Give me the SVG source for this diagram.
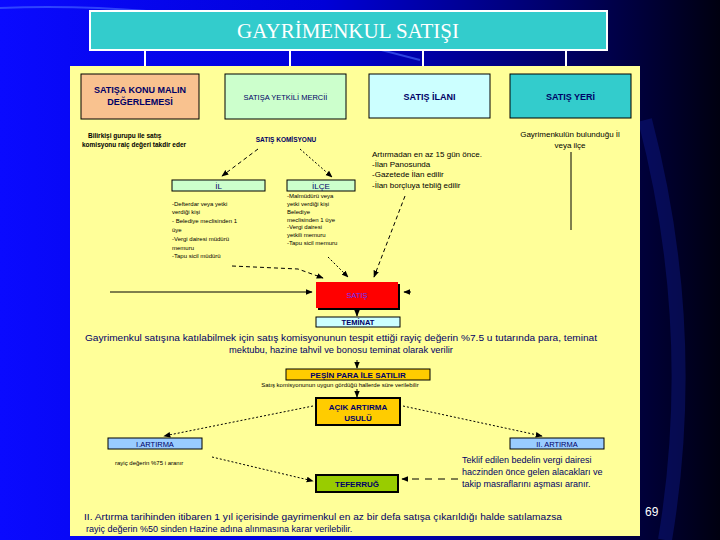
<svg xmlns="http://www.w3.org/2000/svg" width="720" height="540" viewBox="0 0 720 540">
<defs>
<linearGradient id="bg" x1="0" y1="0" x2="1" y2="0">
<stop offset="0" stop-color="#0a0aff"/>
<stop offset="0.45" stop-color="#0000d8"/>
<stop offset="0.75" stop-color="#000070"/>
<stop offset="1" stop-color="#000010"/>
</linearGradient>
<marker id="ah" viewBox="0 0 10 10" refX="9" refY="5" markerWidth="7" markerHeight="7" orient="auto" markerUnits="userSpaceOnUse">
<path d="M0,1 L10,5 L0,9 z" fill="#000"/>
</marker>
<style>
.box{stroke:#000;stroke-width:1}
.thick{stroke:#000;stroke-width:2}
.lbl{font-family:"Liberation Sans",Arial,sans-serif;fill:#000066;text-anchor:middle}
.b{font-weight:bold}
.txt{font-family:"Liberation Sans",Arial,sans-serif;fill:#000066}
.blk{font-family:"Liberation Sans",Arial,sans-serif;fill:#000}
.tiny{font-family:"Liberation Sans",Arial,sans-serif;fill:#000;font-size:6px}
.ln{stroke:#000;stroke-width:1;fill:none}
.dash{stroke:#000;stroke-width:1;fill:none;stroke-dasharray:4,3}
.dot{stroke:#000;stroke-width:1;fill:none;stroke-dasharray:2,2}
</style>
</defs>
<rect x="0" y="0" width="720" height="540" fill="url(#bg)"/>
<path d="M0,8 Q200,0 420,60" stroke="#4a6cff" stroke-width="2" fill="none" opacity="0.6"/>
<path d="M665,540 Q700,330 645,120" stroke="#1020a0" stroke-width="14" fill="none" opacity="0.35"/>
<g id="title">
<rect x="90" y="11" width="517" height="39" fill="#33CCCC" stroke="#fff" stroke-width="2"/>
<text x="348" y="38" font-family="Liberation Serif,'Times New Roman',serif" font-size="21" fill="#fff" text-anchor="middle">GAYRİMENKUL SATIŞI</text>
</g>
<g id="title-links" stroke="#fff" stroke-width="2">
<line x1="145" y1="50" x2="145" y2="66"/>
<line x1="290" y1="50" x2="290" y2="66"/>
<line x1="423" y1="50" x2="423" y2="66"/>
<line x1="566" y1="50" x2="566" y2="66"/>
</g>
<rect id="panel" x="70" y="66" width="570" height="470" fill="#FFFF99"/>
<g id="degerleme">
<rect class="box" x="81" y="74" width="118" height="45" fill="#F9C28F"/>
<text class="lbl b" x="140" y="93" font-size="9">SATIŞA KONU MALIN</text>
<text class="lbl b" x="140" y="105" font-size="9">DEĞERLEMESİ</text>
</g>
<g id="mercii">
<rect class="box" x="225" y="74" width="121" height="45" fill="#CCFFCC"/>
<text class="lbl" x="285.5" y="100" font-size="7.5">SATIŞA YETKİLİ MERCİİ</text>
</g>
<g id="ilan">
<rect class="box" x="369" y="74" width="121" height="44" fill="#CCFFFF"/>
<text class="lbl b" x="429.5" y="100" font-size="9">SATIŞ İLANI</text>
</g>
<g id="yer">
<rect class="box" x="510" y="74" width="121" height="44" fill="#33CCCC"/>
<text class="lbl b" x="570.5" y="100" font-size="9">SATIŞ YERİ</text>
</g>
<g id="bilirkisi">
<text class="blk b" x="88" y="138" font-size="6.5">Bilirkişi gurupu ile satış</text>
<text class="blk b" x="82" y="147" font-size="6.5">komisyonu raiç değeri takdir eder</text>
</g>
<g id="komisyon">
<text class="lbl b" x="286" y="142" font-size="6.5">SATIŞ KOMİSYONU</text>
</g>
<g id="ilan-text">
<text class="blk" x="372" y="157" font-size="8">Artırmadan en az 15 gün önce.</text>
<text class="blk" x="372" y="167" font-size="8">-İlan Panosunda</text>
<text class="blk" x="372" y="177" font-size="8">-Gazetede İlan edilir</text>
<text class="blk" x="372" y="188" font-size="8">-İlan borçluya tebliğ edilir</text>
</g>
<g id="yer-text">
<text class="blk" x="570" y="137" font-size="8" text-anchor="middle">Gayrimenkulün bulunduğu İl</text>
<text class="blk" x="570" y="148" font-size="8" text-anchor="middle">veya ilçe</text>
</g>
<g id="il">
<rect class="box" x="172" y="180" width="93" height="11" fill="#CCFFCC"/>
<text class="lbl" x="218.5" y="189" font-size="8">İL</text>
<text class="tiny" x="172" y="206">-Defterdar veya yetki</text>
<text class="tiny" x="172" y="214">verdiği kişi</text>
<text class="tiny" x="172" y="223">- Belediye meclisinden 1</text>
<text class="tiny" x="172" y="232">üye</text>
<text class="tiny" x="172" y="241">-Vergi dairesi müdürü</text>
<text class="tiny" x="172" y="250">memuru</text>
<text class="tiny" x="172" y="258">-Tapu sicil müdürü</text>
</g>
<g id="ilce">
<rect class="box" x="287" y="180" width="68" height="11" fill="#CCFFCC"/>
<text class="lbl" x="321" y="189" font-size="8">İLÇE</text>
<text class="tiny" x="287" y="198">-Malmüdürü veya</text>
<text class="tiny" x="287" y="206">yetki verdiği kişi</text>
<text class="tiny" x="287" y="214">Belediye</text>
<text class="tiny" x="287" y="222">meclisinden 1 üye</text>
<text class="tiny" x="287" y="229">-Vergi dairesi</text>
<text class="tiny" x="287" y="237">yetkili memuru</text>
<text class="tiny" x="287" y="245">-Tapu sicil memuru</text>
</g>
<g id="satis">
<rect x="318" y="284" width="82" height="26" fill="#000"/>
<rect x="316" y="282" width="82" height="26" fill="#FF0000"/>
<text x="357" y="298" font-family="Liberation Sans,Arial,sans-serif" font-size="7.5" fill="#6633FF" text-anchor="middle">SATIŞ</text>
</g>
<g id="teminat">
<rect class="box" x="316" y="317" width="84" height="10" fill="#CCFFFF"/>
<text class="lbl b" x="358" y="325" font-size="7.5">TEMİNAT</text>
</g>
<g id="teminat-text">
<text class="txt" x="341" y="341" font-size="9.3" text-anchor="middle" textLength="512" lengthAdjust="spacingAndGlyphs">Gayrimenkul satışına katılabilmek için satış komisyonunun tespit ettiği rayiç değerin %7.5 u tutarında para, teminat</text>
<text class="txt" x="341" y="353" font-size="9.3" text-anchor="middle">mektubu, hazine tahvil ve bonosu teminat olarak verilir</text>
</g>
<g id="pesin">
<rect class="box" x="286" y="369" width="144" height="11" fill="#FFCC00"/>
<text class="lbl b" x="358" y="378" font-size="8">PEŞİN PARA İLE SATILIR</text>
<text class="tiny" x="340" y="387" text-anchor="middle" font-size="5.5">Satış komisyonunun uygun gördüğü hallerde süre verilebilir</text>
</g>
<g id="acik">
<rect class="thick" x="316" y="398" width="84" height="27" fill="#FFCC00"/>
<text class="lbl b" x="358" y="410" font-size="8">AÇIK ARTIRMA</text>
<text class="lbl b" x="358" y="421" font-size="8">USULÜ</text>
</g>
<g id="artirma1">
<rect class="box" x="108" y="438" width="94" height="11" fill="#99CCFF"/>
<text class="lbl" x="155" y="447" font-size="7.5">I.ARTIRMA</text>
<text class="tiny" x="115" y="465">rayiç değerin %75 i aranır</text>
</g>
<g id="artirma2">
<rect class="box" x="510" y="438" width="94" height="11" fill="#99CCFF"/>
<text class="lbl" x="557" y="447" font-size="7.5">II. ARTIRMA</text>
</g>
<g id="teferrug">
<rect class="thick" x="316" y="475" width="82" height="17" fill="#99CC00"/>
<text class="lbl b" x="357" y="487" font-size="8">TEFERRUĞ</text>
</g>
<g id="teklif-text">
<text class="txt" x="462" y="463" font-size="9">Teklif edilen bedelin vergi dairesi</text>
<text class="txt" x="462" y="475" font-size="9">haczinden önce gelen alacakları ve</text>
<text class="txt" x="462" y="487" font-size="9">takip masraflarını aşması aranır.</text>
</g>
<g id="bottom-text">
<text class="txt" x="84" y="520" font-size="9" textLength="478" lengthAdjust="spacingAndGlyphs">II. Artırma tarihinden itibaren 1 yıl içerisinde gayrimenkul en az bir defa satışa çıkarıldığı halde satılamazsa</text>
<text class="txt" x="86" y="532" font-size="9">rayiç değerin %50 sinden Hazine adına alınmasına karar verilebilir.</text>
</g>
<text id="page" x="645" y="516" font-family="Liberation Sans,Arial,sans-serif" font-size="12" fill="#fff">69</text>
<g id="connectors">
<line class="dash" x1="258" y1="149" x2="222" y2="176" marker-end="url(#ah)"/>
<line class="dot" x1="300" y1="149" x2="332" y2="177" marker-end="url(#ah)"/>
<line class="ln" x1="571" y1="152" x2="571" y2="230"/>
<line class="ln" x1="110" y1="292" x2="312" y2="292" marker-end="url(#ah)"/>
<polyline class="dash" points="232,266 298,269 323,278" marker-end="url(#ah)"/>
<line class="dot" x1="328" y1="257" x2="348" y2="277" marker-end="url(#ah)"/>
<line class="dash" x1="405" y1="196" x2="374" y2="277" marker-end="url(#ah)"/>
<line class="ln" x1="411" y1="292" x2="404" y2="292" marker-end="url(#ah)"/>
<line class="ln" x1="357" y1="311" x2="357" y2="316" marker-end="url(#ah)"/>
<line class="ln" x1="357" y1="360" x2="357" y2="368" marker-end="url(#ah)"/>
<line class="ln" x1="357" y1="389" x2="357" y2="397" marker-end="url(#ah)"/>
<line class="dot" x1="313" y1="406" x2="164" y2="436" marker-end="url(#ah)"/>
<line class="dot" x1="403" y1="406" x2="542" y2="436" marker-end="url(#ah)"/>
<line class="dot" x1="212" y1="457" x2="313" y2="481" marker-end="url(#ah)"/>
<line stroke="#000" stroke-width="1" stroke-dasharray="7,6" x1="458" y1="479" x2="402" y2="479" marker-end="url(#ah)"/>
</g>
</svg>
